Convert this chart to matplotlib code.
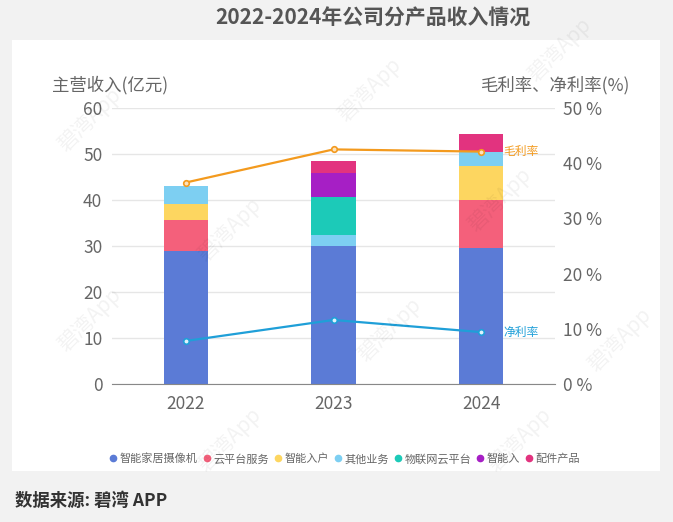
"""
2022-2024年公司分产品收入情况：分产品堆叠柱 + 毛利率/净利率折线（双轴）。
"""
import matplotlib.pyplot as plt
import numpy as np
from matplotlib.patches import Rectangle

plt.rcParams['font.family'] = ['Noto Sans CJK SC', 'DejaVu Sans']

# 数据（亿元 / %）
years = ["2022", "2023", "2024"]
products = ["智能家居摄像机", "云平台服务", "智能入户", "其他业务",
            "物联网云平台", "智能入", "配件产品"]
camera = [29.0, 30.0, 29.5]
cloud_service = [6.6, 0.0, 10.5]
smart_entry = [3.5, 0.0, 7.5]
other = [3.9, 2.3, 3.0]
iot_cloud = [0.0, 8.4, 0.0]
smart_in = [0.0, 5.2, 0.0]
accessories = [0.0, 2.6, 3.85]
gross_margin = [36.5, 42.5, 42.1]
net_margin = [7.8, 11.6, 9.4]

colors = ["#5b7bd6", "#f4607b", "#fdd660", "#7dcff2",
          "#1ccab8", "#a61fc5", "#e2337f"]
series = [camera, cloud_service, smart_entry, other,
          iot_cloud, smart_in, accessories]

W, H = 673, 522
fig = plt.figure(figsize=(W / 100, H / 100), dpi=100, facecolor="#f2f2f2")
fig.patches.append(Rectangle((12 / W, 1 - 471 / H), 648 / W, 431 / H,
                             transform=fig.transFigure, facecolor="white",
                             edgecolor="none", zorder=-10))

ax = fig.add_axes([112 / W, 1 - 384 / H, 443 / W, 276 / H])
ax.set_facecolor("none")
x = np.arange(len(years))
bottom = np.zeros(len(years))
for name, vals, c in zip(products, series, colors):
    v = np.array(vals)
    ax.bar(x, v, 0.3, bottom=bottom, color=c, label=name, zorder=2)
    bottom += v

ax.set_xlim(-0.5, 2.5)
ax.set_ylim(0, 60)
ax.set_yticks(range(0, 61, 10))
ax.set_xticks(x, years)
ax.grid(axis="y", color="#e6e6e6", linewidth=1, zorder=0)
ax.set_axisbelow(True)
for s in ["top", "right", "left"]:
    ax.spines[s].set_visible(False)
ax.spines["bottom"].set_color("#888888")
ax.tick_params(axis="y", length=0, pad=7, labelsize=12.5, labelcolor="#666666")
ax.tick_params(axis="x", length=0, pad=8, labelsize=12.5, labelcolor="#666666")

ax2 = ax.twinx()
ax2.set_ylim(0, 50)
ax2.set_yticks(range(0, 51, 10), [f"{t} %" for t in range(0, 51, 10)])
for s in ax2.spines.values():
    s.set_visible(False)
ax2.tick_params(axis="y", length=0, pad=6, labelsize=12.5, labelcolor="#666666")

ax2.plot(x, gross_margin, color="#f39a1e", linewidth=1.6, marker="o",
         markersize=4, markerfacecolor="#fde3bd", markeredgewidth=1.2, zorder=3)
ax2.plot(x, net_margin, color="#1f9fd8", linewidth=1.6, marker="o",
         markersize=4, markerfacecolor="#dff3fc", markeredgewidth=1.2, zorder=3)
ax2.annotate("毛利率", (x[-1], gross_margin[-1]), xytext=(16, 0),
             textcoords="offset points", va="center", ha="left",
             fontsize=8.5, style="italic", color="#f39a1e")
ax2.annotate("净利率", (x[-1], net_margin[-1]), xytext=(16, 0),
             textcoords="offset points", va="center", ha="left",
             fontsize=8.5, style="italic", color="#1f9fd8")

fig.text(52 / W, 1 - 85 / H, "主营收入(亿元)", fontsize=12.5, color="#666666",
         ha="left", va="center")
fig.text(630 / W, 1 - 85 / H, "毛利率、净利率(%)", fontsize=12.5,
         color="#666666", ha="right", va="center")
fig.text(373 / W, 1 - 18 / H, "2022-2024年公司分产品收入情况", fontsize=15,
         fontweight="bold", color="#555555", ha="center", va="center")
fig.text(15 / W, 1 - 501 / H, "数据来源: 碧湾 APP", fontsize=12.5,
         fontweight="bold", color="#333333", ha="left", va="center")

handles, labels = ax.get_legend_handles_labels()
markers = [plt.Line2D([], [], linestyle="none", marker="o", markersize=4.5,
                      color=c) for c in colors]
fig.legend(markers, labels, loc="center", bbox_to_anchor=(345 / W, 1 - 459 / H),
           ncol=7, frameon=False, fontsize=8, handlelength=0.6,
           handletextpad=0.3, columnspacing=0.5, labelcolor="#666666")

# 水印
for px, py in [(90, 120), (370, 90), (560, 50), (230, 230), (500, 200),
               (90, 320), (390, 330), (620, 340), (230, 440), (520, 440)]:
    fig.text(px / W, 1 - py / H, "碧湾App", fontsize=15, rotation=45,
             color="#000000", alpha=0.05, ha="center", va="center", zorder=10)

fig.savefig("out.png", dpi=100, facecolor=fig.get_facecolor())
